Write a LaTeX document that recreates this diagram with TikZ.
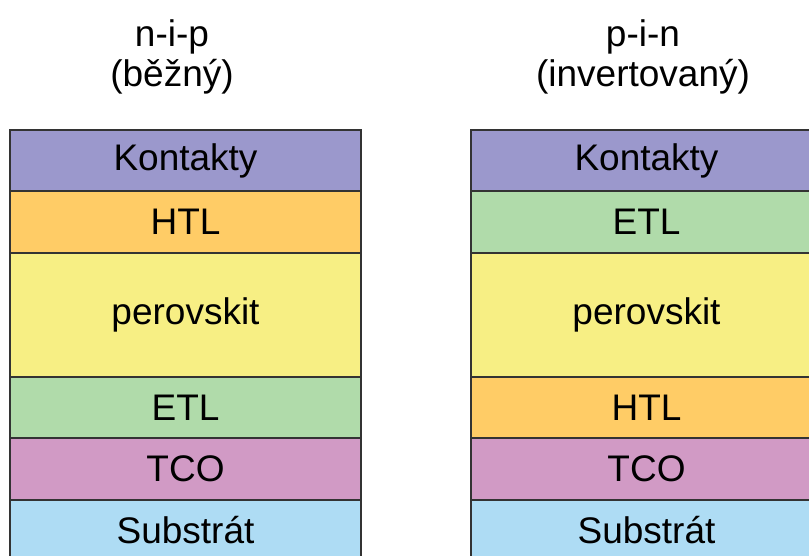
\documentclass[tikz,border=0pt]{standalone}
\usepackage{fontspec}
\setmainfont{Liberation Sans}
\usetikzlibrary{positioning}
\definecolor{kontaktcol}{HTML}{9B98CC}
\definecolor{htlcol}{HTML}{FFCC66}
\definecolor{perocol}{HTML}{F7EF84}
\definecolor{etlcol}{HTML}{B0DBAA}
\definecolor{tcocol}{HTML}{D19AC5}
\definecolor{substcol}{HTML}{AEDCF4}
\tikzstyle{layer} = [rectangle, minimum width=351pt, text centered, draw=black!80, line width=2pt, outer sep=0pt, inner sep=0pt, font=\fontsize{37}{37}\selectfont]
\tikzstyle{heading} = [align=center, font=\fontsize{37}{40}\selectfont]

\begin{document}
\begin{tikzpicture}[x=1pt,y=-1pt]
\useasboundingbox (0,0) rectangle (809,556);
\clip (0,0) rectangle (809,556);

% Titles
\node (niptitle) [heading] at (172,57) {n-i-p\\(běžný)};
\node (pintitle) [heading] at (643,57) {p-i-n\\(invertovaný)};

% Left stack (n-i-p)
\node (kontaktyL) [layer, fill=kontaktcol, minimum height=61pt, anchor=north] at (185.5,130) {Kontakty};
\node (htlL) [layer, fill=htlcol, minimum height=62pt, below=0pt of kontaktyL] {HTL};
\node (peroL) [layer, fill=perocol, minimum height=124pt, below=0pt of htlL] {perovskit};
\node (etlL) [layer, fill=etlcol, minimum height=61pt, below=0pt of peroL] {ETL};
\node (tcoL) [layer, fill=tcocol, minimum height=62pt, below=0pt of etlL] {TCO};
\node (substL) [layer, fill=substcol, minimum height=61pt, below=0pt of tcoL] {Substrát};

% Right stack (p-i-n)
\node (kontaktyR) [layer, fill=kontaktcol, minimum height=61pt, anchor=north] at (646.5,130) {Kontakty};
\node (etlR) [layer, fill=etlcol, minimum height=62pt, below=0pt of kontaktyR] {ETL};
\node (peroR) [layer, fill=perocol, minimum height=124pt, below=0pt of etlR] {perovskit};
\node (htlR) [layer, fill=htlcol, minimum height=61pt, below=0pt of peroR] {HTL};
\node (tcoR) [layer, fill=tcocol, minimum height=62pt, below=0pt of htlR] {TCO};
\node (substR) [layer, fill=substcol, minimum height=61pt, below=0pt of tcoR] {Substrát};

\end{tikzpicture}
\end{document}
